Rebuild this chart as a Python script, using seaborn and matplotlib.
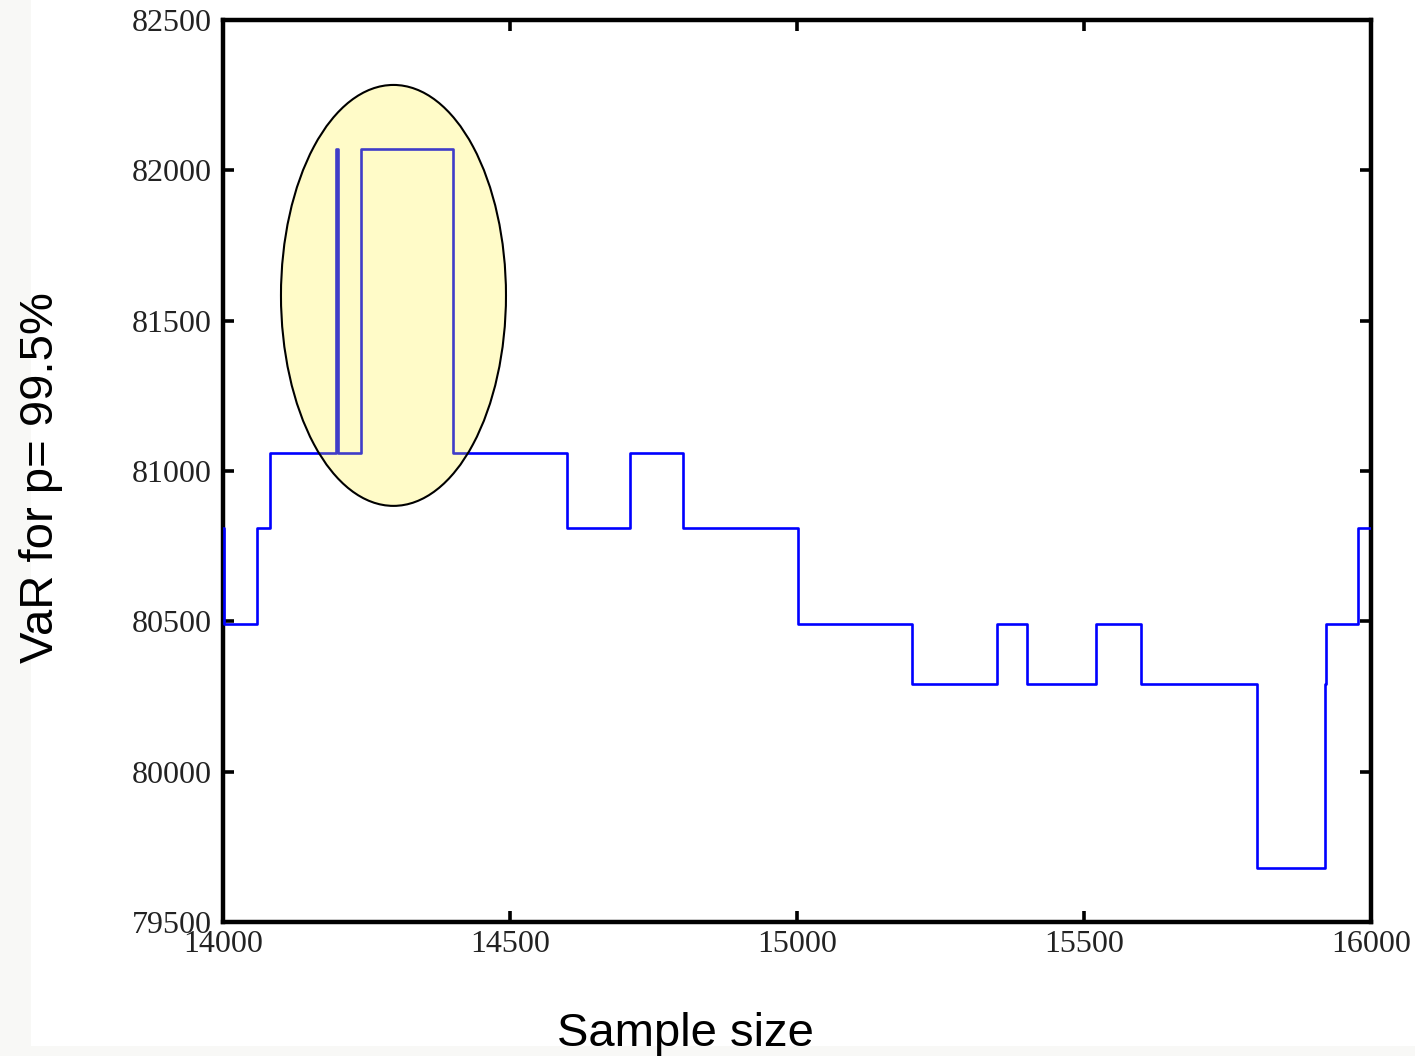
import matplotlib
matplotlib.use("Agg")
import matplotlib.pyplot as plt
from matplotlib.patches import Ellipse, Rectangle
import seaborn as sns
import pandas as pd

# Change points of the VaR estimate (value holds until the next sample size)
sample_size = [14000, 14001, 14059, 14082, 14196, 14200, 14240, 14401,
               14600, 14709, 14802, 15001, 15201, 15348, 15400, 15521,
               15600, 15801, 15920, 15921, 15977, 16000]
var_value = [80810, 80490, 80810, 81060, 82070, 81060, 82070, 81060,
             80810, 81060, 80810, 80490, 80290, 80490, 80290, 80490,
             80290, 79680, 80290, 80490, 80810, 80810]

x_ticks = [14000, 14500, 15000, 15500, 16000]
y_ticks = [79500, 80000, 80500, 81000, 81500, 82000, 82500]

# Highlighted region around the upward jumps
highlight_center = (14297, 81584)
highlight_width = 392
highlight_height = 1400

df = pd.DataFrame({"Sample size": sample_size, "VaR": var_value})

sns.set_theme(style="ticks")
plt.rcParams["font.family"] = ["Liberation Serif", "DejaVu Serif"]

fig = plt.figure(figsize=(14.15, 10.56), dpi=100, facecolor="#f8f8f6")
fig.add_artist(Rectangle((31 / 1415, 10 / 1056), 1 - 31 / 1415, 1 - 10 / 1056,
                         transform=fig.transFigure, facecolor="white",
                         edgecolor="none", zorder=-10))

ax = fig.add_axes([223 / 1415, 134 / 1056, 1148 / 1415, 902 / 1056])
ax.set_facecolor("white")

sns.lineplot(data=df, x="Sample size", y="VaR", ax=ax, color="#0000ff",
             linewidth=1.9, drawstyle="steps-post", estimator=None,
             sort=False, zorder=2)

ax.add_patch(Ellipse(highlight_center, highlight_width, highlight_height,
                     facecolor=(1.0, 0.953, 0.14, 0.25), edgecolor="black",
                     linewidth=1.5, zorder=3))

ax.set_xlim(14000, 16000)
ax.set_ylim(79500, 82500)
ax.set_xticks(x_ticks)
ax.set_yticks(y_ticks)
ax.set_xticklabels([str(v) for v in x_ticks])
ax.set_yticklabels([str(v) for v in y_ticks])

for side in ["left", "right", "top", "bottom"]:
    ax.spines[side].set_visible(True)
    ax.spines[side].set_color("black")
    ax.spines[side].set_linewidth(3.2)
    ax.spines[side].set_zorder(1)

ax.tick_params(axis="both", which="major", direction="in", length=8,
               width=2.6, color="black", labelsize=23, labelcolor="#222222",
               top=True, right=True)
ax.tick_params(axis="y", pad=8)
ax.tick_params(axis="x", pad=6)

label_font = {"family": ["Liberation Sans", "DejaVu Sans"], "size": 34,
              "color": "black"}
ax.set_xlabel("Sample size", fontdict=label_font)
ax.set_ylabel("VaR for p= 99.5%", fontdict=label_font)
ax.xaxis.set_label_coords(0.403, -0.0998)
ax.yaxis.set_label_coords(-0.139, 0.4928)

fig.savefig("out.png", dpi=100, facecolor=fig.get_facecolor())
